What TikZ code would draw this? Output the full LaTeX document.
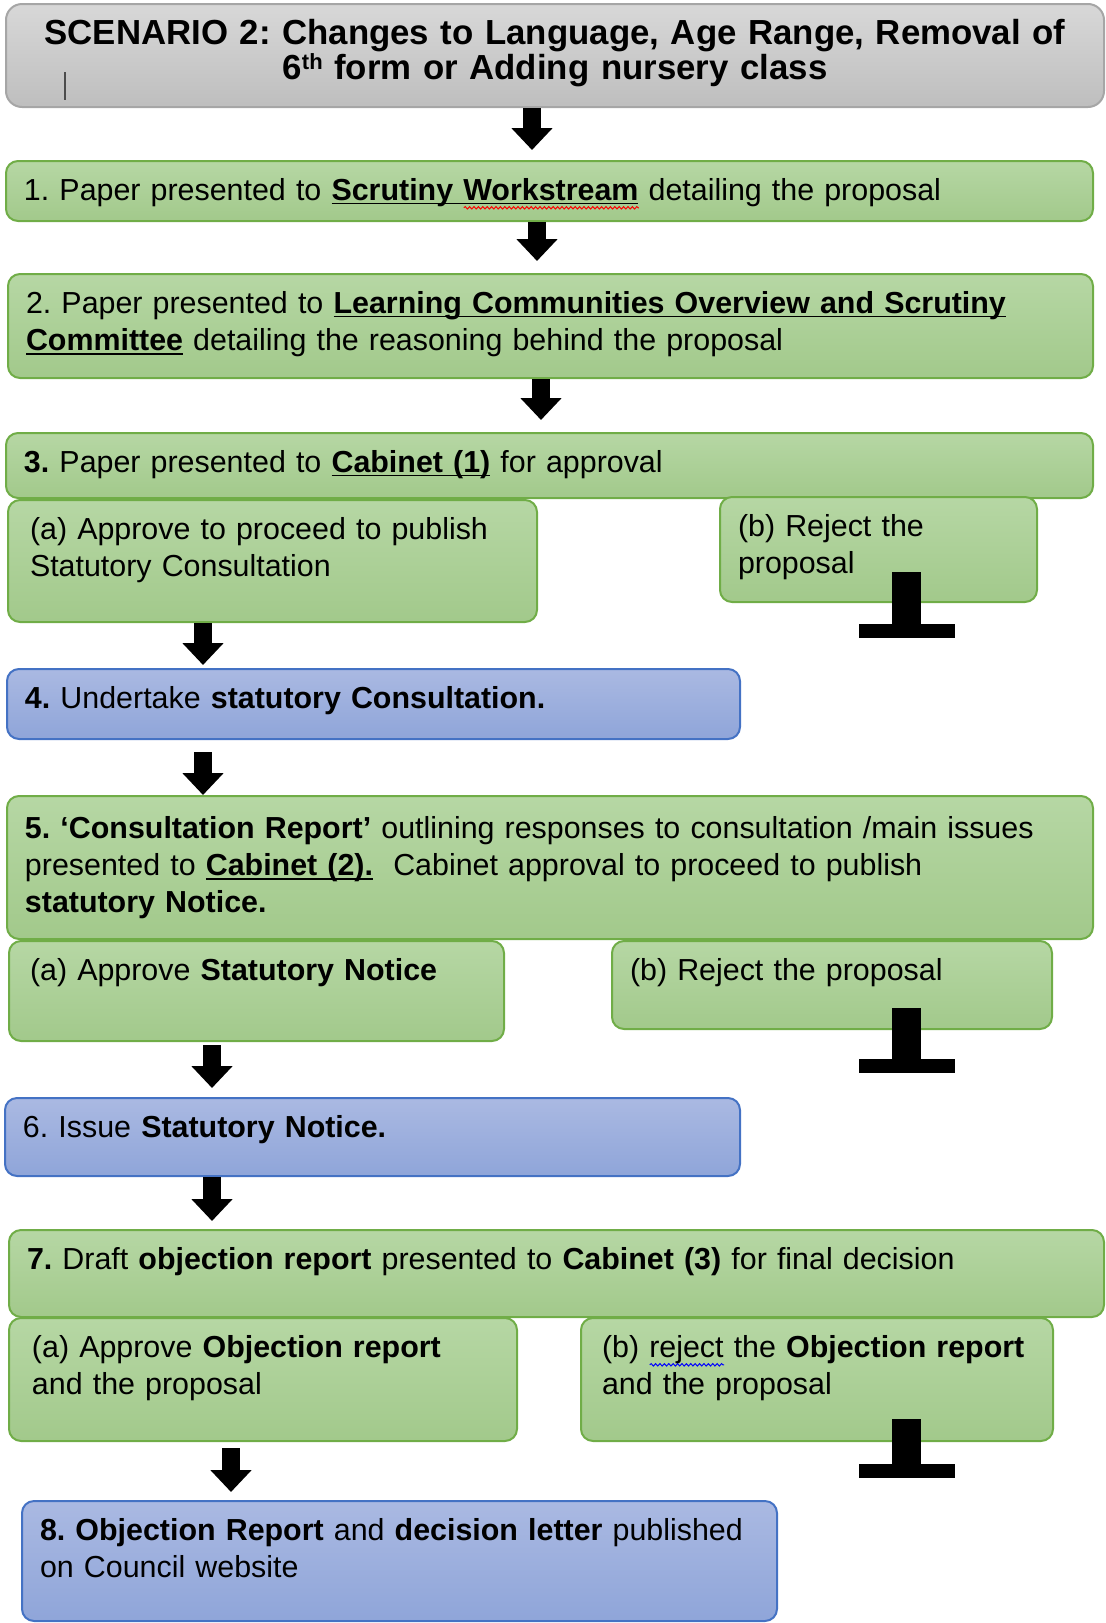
\documentclass[tikz,border=0pt]{standalone}
\usepackage{fontspec}
\setmainfont{Liberation Sans}
\usetikzlibrary{arrows.meta,calc,decorations.pathmorphing}
\frenchspacing
\hyphenpenalty=10000

\definecolor{grnline}{HTML}{70AD47}
\definecolor{grntop}{HTML}{B6D7A4}
\definecolor{grnbot}{HTML}{A2C98B}
\definecolor{bluline}{HTML}{4472C4}
\definecolor{blutop}{HTML}{AAB9E2}
\definecolor{blubot}{HTML}{8FA5D9}
\definecolor{gryline}{HTML}{A6A6A6}
\definecolor{grytop}{HTML}{D8D8D8}
\definecolor{grybot}{HTML}{BEBEBE}

% underline and spell-check wave
\newsavebox\ulbox
\newsavebox\sqbox
\newlength\sqlen
\newcommand{\ulin}[1]{\leavevmode\sbox\ulbox{#1}\rlap{\rule[-2.2pt]{\wd\ulbox}{0.9pt}}\usebox\ulbox}
\newcommand{\squig}[2]{\leavevmode\sbox\sqbox{#2}\setlength\sqlen{\wd\sqbox}%
  \rlap{\tikz[baseline=0pt]\draw[sharp corners,#1,line width=0.5pt,decorate,decoration={snake,amplitude=0.6pt,segment length=2.2pt}] (0pt,-3.9pt) -- (\sqlen,-3.9pt);}\usebox\sqbox}
\newcommand{\ordsup}[1]{\raisebox{5pt}{\fontsize{11}{11}\selectfont #1}}

\begin{document}
\begin{tikzpicture}[x=0.5pt,y=-0.5pt,
  box/.style={anchor=north west, rounded corners=6pt, line width=1pt, inner xsep=9pt, inner ysep=4pt,
    align=left, text height=15.5pt, font=\fontsize{15.2}{18.6}\selectfont},
  greenbox/.style={box, draw=grnline, top color=grntop, bottom color=grnbot},
  bluebox/.style={box, draw=bluline, top color=blutop, bottom color=blubot},
  flow/.style={line width=9pt, -{Triangle[length=11pt,width=20pt]}},
  halt/.style={line width=14.5pt, -{Rectangle[length=7pt,width=48pt]}}]
\useasboundingbox (0,0) rectangle (1105,1623);

% title
\node[anchor=north west, draw=gryline, top color=grytop, bottom color=grybot, rounded corners=8pt, line width=1pt,
  text width=529pt, align=center, inner xsep=10pt, inner ysep=4pt, text height=16pt, text depth=27.5pt,
  font={\bfseries\fontsize{17.4}{17.5}\selectfont\lineskiplimit=-20pt\relax}] (title) at (5,3)
  {SCENARIO 2: Changes to Language, Age Range, Removal of\\6\ordsup{th} form or Adding nursery class};
\draw[black!70, line width=0.7pt] (65,72) -- (65,100);

% stages
\node[greenbox, text width=525.5pt, text depth=6.5pt] (s1) at (5,160)
  {1. Paper presented to \ulin{\textbf{Scrutiny} \squig{red}{\textbf{Workstream}}} detailing the proposal};
\node[greenbox, text width=524.5pt, text depth=28.5pt] (s2) at (7,273)
  {2. Paper presented to \ulin{\textbf{Learning Communities Overview and Scrutiny}}\\
   \ulin{\textbf{Committee}} detailing the reasoning behind the proposal};
\node[greenbox, text width=525.5pt, text depth=9pt] (s3) at (5,432)
  {\textbf{3.} Paper presented to \ulin{\textbf{Cabinet (1)}} for approval};
\node[greenbox, inner xsep=11pt, text width=242.5pt, text depth=37.5pt] (s3a) at (7,499)
  {(a) Approve to proceed to publish\\Statutory Consultation};
\node[greenbox, text width=140.5pt, text depth=29pt] (s3b) at (719,496)
  {(b) Reject the\\proposal};
\node[bluebox, text width=348.5pt, text depth=11.5pt] (s4) at (6,668)
  {\textbf{4.} Undertake \textbf{statutory Consultation.}};
\node[greenbox, text width=525pt, text height=17pt, text depth=46.5pt] (s5) at (6,795)
  {\textbf{5. ‘Consultation Report’} outlining responses to consultation /main issues\\
   presented to \ulin{\textbf{Cabinet (2).}}\ \ Cabinet approval to proceed to publish\\
   \textbf{statutory Notice.}};
\node[greenbox, inner xsep=10.5pt, text width=226.5pt, text depth=26.5pt] (s5a) at (8,940)
  {(a) Approve \textbf{Statutory Notice}};
\node[greenbox, text width=202pt, text depth=20.5pt] (s5b) at (611,940)
  {(b) Reject the proposal};
\node[bluebox, text width=349.5pt, text depth=15.5pt] (s6) at (4,1097)
  {6. Issue \textbf{Statutory Notice.}};
\node[greenbox, text width=529.5pt, text depth=20pt] (s7) at (8,1229)
  {\textbf{7.} Draft \textbf{objection report} presented to \textbf{Cabinet (3)} for final decision};
\node[greenbox, inner xsep=11.5pt, text width=231pt, text depth=38pt] (s7a) at (8,1317)
  {(a) Approve \textbf{Objection report}\\and the proposal};
\node[greenbox, inner xsep=10.5pt, text width=215pt, text depth=38pt] (s7b) at (580,1317)
  {(b) \squig{blue}{reject} the \textbf{Objection report}\\and the proposal};
\node[bluebox, text width=359.5pt, text depth=36.5pt] (s8) at (21,1500)
  {\textbf{8. Objection Report} and \textbf{decision letter} published\\on Council website};

% arrows down
\draw[flow] ($(title.south)+(-23,0)$) -- ($(title.south |- s1.north)+(-23,-10)$);
\draw[flow] ($(s1.south)+(-12.5,0)$) -- ($(s1.south |- s2.north)+(-12.5,-12)$);
\draw[flow] ($(s2.south)+(-9.5,0)$) -- ($(s2.south |- s3.north)+(-9.5,-12)$);
\draw[flow] ($(s3a.south west)+(196,0)$) -- ($(s3a.south west |- s4.north)+(196,-3)$);
\draw[flow] ($(s4.south west)+(197,12)$) -- ($(s4.south west |- s5.north)+(197,0)$);
\draw[flow] ($(s5a.south west)+(204,3)$) -- ($(s5a.south west |- s6.north)+(204,-9)$);
\draw[flow] ($(s6.south west)+(208,0)$) -- ($(s6.south west |- s7.north)+(208,-8)$);
\draw[flow] ($(s7a.south west)+(223,6)$) -- ($(s7a.south west |- s8.north)+(223,-8)$);

% rejections
\coordinate (x3) at ($(s3b.south west)+(187.5,35)$);
\coordinate (x5) at ($(s5b.south west)+(295.5,43)$);
\coordinate (x7) at ($(s7b.south west)+(326.5,36)$);
\draw[halt] ($(s3b.south west)+(187.5,-31)$) -- (x3);
\draw[halt] ($(s5b.south west)+(295.5,-22)$) -- (x5);
\draw[halt] ($(s7b.south west)+(326.5,-23)$) -- (x7);
\end{tikzpicture}
\end{document}
